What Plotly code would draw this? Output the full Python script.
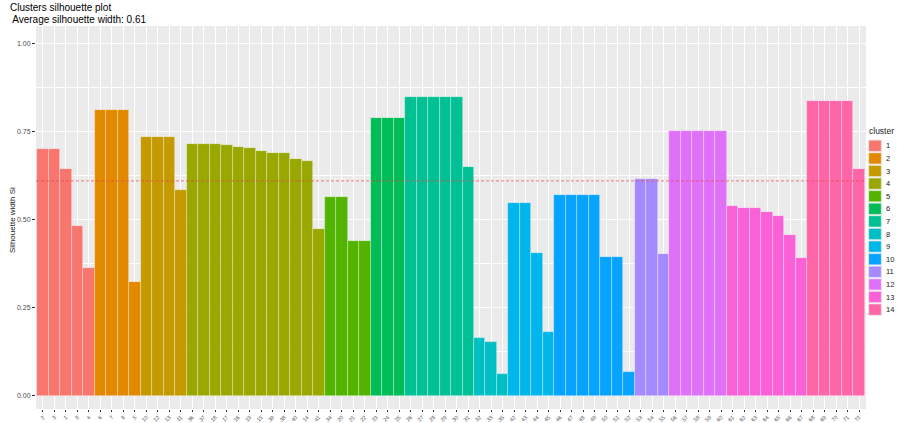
import math
import plotly.graph_objects as go

# ---- data ----
cluster_ids = [1, 2, 3, 4, 5, 6, 7, 8, 9, 10, 11, 12, 13, 14]
obs_labels = [
    ["2", "3", "1", "9", "4"],
    ["6", "7", "8", "5"],
    ["10", "12", "13", "11"],
    ["36", "37", "18", "17", "16", "19", "15", "39", "38", "40", "14", "41"],
    ["34", "20", "21", "22"],
    ["23", "24", "25"],
    ["26", "27", "28", "29", "30", "31"],
    ["32", "33", "35"],
    ["42", "43", "44", "45"],
    ["46", "47", "48", "49", "50", "51", "52"],
    ["53", "54", "55"],
    ["56", "57", "58", "59", "60"],
    ["61", "62", "63", "64", "65", "66", "67"],
    ["68", "69", "70", "71", "72"],
]
sil_width = [
    [0.700, 0.700, 0.644, 0.483, 0.363],
    [0.810, 0.810, 0.810, 0.324],
    [0.735, 0.735, 0.735, 0.585],
    [0.714, 0.714, 0.714, 0.711, 0.707, 0.703, 0.695, 0.690, 0.688, 0.672, 0.666, 0.473],
    [0.565, 0.565, 0.440, 0.440],
    [0.789, 0.789, 0.789],
    [0.849, 0.849, 0.849, 0.849, 0.849, 0.650],
    [0.163, 0.151, 0.062],
    [0.547, 0.547, 0.405, 0.180],
    [0.571, 0.571, 0.571, 0.571, 0.394, 0.394, 0.067],
    [0.616, 0.616, 0.401],
    [0.752, 0.752, 0.752, 0.752, 0.752],
    [0.540, 0.534, 0.532, 0.521, 0.509, 0.456, 0.390],
    [0.836, 0.836, 0.836, 0.836, 0.645],
]
y_ticks = [0.0, 0.25, 0.5, 0.75, 1.0]
y_tick_text = ["0.00", "0.25", "0.50", "0.75", "1.00"]


def hcl_hex(h, c=100.0, l=65.0):
    Xn, Yn, Zn = 95.047, 100.0, 108.883
    den = Xn + 15 * Yn + 3 * Zn
    un, vn = 4 * Xn / den, 9 * Yn / den
    hr = math.radians(h)
    U, V = c * math.cos(hr), c * math.sin(hr)
    Y = Yn * ((l + 16) / 116) ** 3
    u = U / (13 * l) + un
    v = V / (13 * l) + vn
    X = 9 * Y * u / (4 * v)
    Z = Y * (12 - 3 * u - 20 * v) / (4 * v)
    X, Y, Z = X / 100, Y / 100, Z / 100
    r = 3.240479 * X - 1.537150 * Y - 0.498535 * Z
    g = -0.969256 * X + 1.875992 * Y + 0.041556 * Z
    b = 0.055648 * X - 0.204043 * Y + 1.057311 * Z

    def gam(t):
        t = 12.92 * t if t <= 0.0031308 else 1.055 * t ** (1 / 2.4) - 0.055
        return max(0, min(255, round(t * 255)))

    return "#%02X%02X%02X" % (gam(r), gam(g), gam(b))


n = len(cluster_ids)
hues = [15 + i * (360 / n) for i in range(n)]
colors = [hcl_hex(h) for h in hues]

all_labels = [lab for grp in obs_labels for lab in grp]
all_vals = [v for grp in sil_width for v in grp]
avg = sum(all_vals) / len(all_vals)

FONT = "Liberation Sans, Arial, sans-serif"

fig = go.Figure()
for cid, labs, vals, col in zip(cluster_ids, obs_labels, sil_width, colors):
    fig.add_trace(go.Bar(
        x=labs, y=vals, name=str(cid), marker_color=col,
        marker_line=dict(color="rgba(255,255,255,0.45)", width=0.7),
        width=1.0, showlegend=False,
    ))

# average line
fig.add_shape(type="line", xref="paper", yref="y", x0=0, x1=1, y0=avg, y1=avg,
              line=dict(color="#E8474A", width=0.7, dash="3px,2px"), layer="above")

# legend (custom, ggplot-like)
W, H = 897, 423
ml, mr, mt, mb = 36, 31, 26, 14
pw, ph = W - ml - mr, H - mt - mb


def px_x(x):
    return (x - ml) / pw


def px_y(y):
    return 1 - (y - mt) / ph


key_top, key_h = 139.5, 12.6
key_x0, key_x1 = 868, 882
for i, (cid, col) in enumerate(zip(cluster_ids, colors)):
    y0 = key_top + i * key_h
    fig.add_shape(type="rect", xref="paper", yref="paper",
                  x0=px_x(key_x0), x1=px_x(key_x1), y0=px_y(y0), y1=px_y(y0 + key_h),
                  fillcolor="#EBEBEB", line=dict(width=0))
    fig.add_shape(type="rect", xref="paper", yref="paper",
                  x0=px_x(key_x0 + 0.8), x1=px_x(key_x1 - 0.8),
                  y0=px_y(y0 + 0.8), y1=px_y(y0 + key_h - 0.8),
                  fillcolor=col, line=dict(color="rgba(255,255,255,0.45)", width=0.7))
    fig.add_annotation(xref="paper", yref="paper", x=px_x(884), y=px_y(y0 + key_h / 2),
                       text=str(cid), showarrow=False, xanchor="left", yanchor="middle",
                       font=dict(family=FONT, size=7.5, color="#1A1A1A"))
fig.add_annotation(xref="paper", yref="paper", x=px_x(867), y=px_y(131),
                   text="cluster", showarrow=False, xanchor="left", yanchor="middle",
                   font=dict(family=FONT, size=8.5, color="#1A1A1A"))

# titles
fig.add_annotation(xref="paper", yref="paper", x=px_x(8), y=px_y(7.5),
                   text="Clusters silhouette plot", showarrow=False,
                   xanchor="left", yanchor="middle",
                   font=dict(family=FONT, size=10, color="#000000"))
fig.add_annotation(xref="paper", yref="paper", x=px_x(8), y=px_y(19.5),
                   text=" Average silhouette width: %.2f" % avg, showarrow=False,
                   xanchor="left", yanchor="middle",
                   font=dict(family=FONT, size=10, color="#000000"))
fig.add_annotation(xref="paper", yref="paper", x=px_x(12), y=px_y(220),
                   text="Silhouette width Si", showarrow=False, textangle=-90,
                   xanchor="center", yanchor="middle",
                   font=dict(family=FONT, size=8, color="#1A1A1A"))

# y range chosen so that 0 -> 396px and 1.05 -> 26px
y_top = 1.05
y_bot = y_top - (H - mb - mt) / 352.0

fig.update_layout(
    width=W, height=H,
    margin=dict(l=ml, r=mr, t=mt, b=mb, autoexpand=False),
    paper_bgcolor="white", plot_bgcolor="#EBEBEB",
    bargap=0, barmode="group",
    font=dict(family=FONT),
    showlegend=False,
)
fig.update_xaxes(
    type="category", categoryorder="array", categoryarray=all_labels,
    range=[-0.6, len(all_labels) - 0.4],
    showgrid=True, gridcolor="white", gridwidth=0.8,
    ticks="outside", ticklen=2, tickcolor="#333333", tickwidth=0.6,
    tickangle=-45, tickfont=dict(family=FONT, size=5.5, color="#4D4D4D"),
    automargin=False, zeroline=False, showline=False,
)
fig.update_yaxes(
    range=[y_bot, y_top], tickvals=y_ticks, ticktext=y_tick_text,
    showgrid=True, gridcolor="white", gridwidth=0.9,
    minor=dict(tickvals=[0.125, 0.375, 0.625, 0.875], showgrid=True,
               gridcolor="white", gridwidth=0.4, ticks=""),
    ticks="outside", ticklen=3, tickcolor="#333333", tickwidth=0.6,
    tickfont=dict(family=FONT, size=7, color="#4D4D4D"),
    automargin=False, zeroline=False, showline=False,
)

fig.write_html(
    "out.html",
    config={"displayModeBar": False},
    post_script="document.body.style.margin='0';document.body.style.overflow='hidden';",
)
